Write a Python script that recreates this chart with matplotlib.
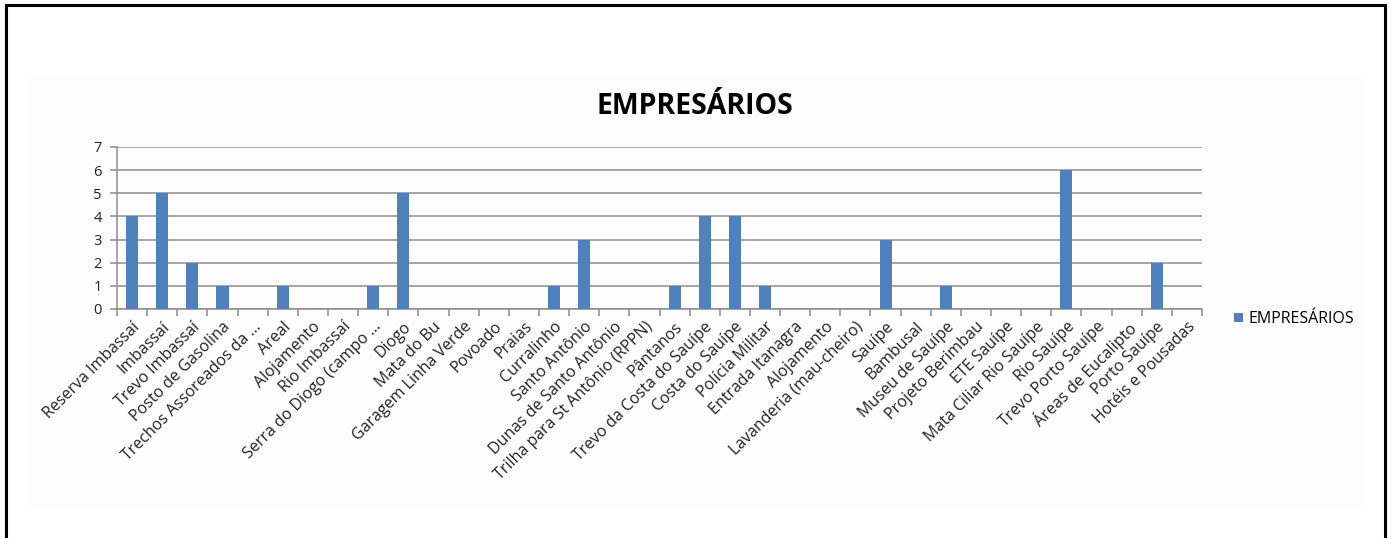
import matplotlib.pyplot as plt
from matplotlib.patches import Rectangle
from matplotlib.lines import Line2D
import numpy as np

plt.rcParams['font.family'] = ['Open Sans', 'DejaVu Sans']

categorias = [
    "Reserva Imbassaí", "Imbassaí", "Trevo Imbassaí", "Posto de Gasolina",
    "Trechos Assoreados da ...", "Areal", "Alojamento", "Rio Imbassaí",
    "Serra do Diogo (campo ...", "Diogo", "Mata do Bu", "Garagem Linha Verde",
    "Povoado", "Praias", "Curralinho", "Santo Antônio",
    "Dunas de Santo Antônio", "Trilha para St Antônio (RPPN)", "Pântanos",
    "Trevo da Costa do Sauípe", "Costa do Sauípe", "Polícia Militar",
    "Entrada Itanagra", "Alojamento", "Lavanderia (mau-cheiro)", "Sauípe",
    "Bambusal", "Museu de Sauípe", "Projeto Berimbau", "ETE Sauípe",
    "Mata Ciliar Rio Sauípe", "Rio Sauípe", "Trevo Porto Sauípe",
    "Áreas de Eucalipto", "Porto Sauípe", "Hotéis e Pousadas",
]
empresarios = [4, 5, 2, 1, 0, 1, 0, 0, 1, 5, 0, 0, 0, 0, 1, 3, 0, 0, 1, 4,
               4, 1, 0, 0, 0, 3, 0, 1, 0, 0, 0, 6, 0, 0, 2, 0]
serie = "EMPRESÁRIOS"
titulo = "EMPRESÁRIOS"

W, H = 1391, 538
fig = plt.figure(figsize=(W / 100, H / 100), dpi=100)
fig.patch.set_facecolor('white')

# fundo levemente acinzentado da área do gráfico
fig.add_artist(Rectangle((30 / W, 1 - 508 / H), (1364 - 30) / W, (508 - 77) / H,
                         transform=fig.transFigure, facecolor='#fdfdfd',
                         edgecolor='none', zorder=0))

# moldura preta (esquerda, topo, direita)
lw = 2.2
fig.add_artist(Line2D([6.5 / W, 6.5 / W], [0, 1 - 5 / H], color='black', lw=lw))
fig.add_artist(Line2D([6.5 / W, 1384.5 / W], [1 - 5 / H, 1 - 5 / H], color='black', lw=lw))
fig.add_artist(Line2D([1384.5 / W, 1384.5 / W], [0, 1 - 5 / H], color='black', lw=lw))

ax = fig.add_axes([117 / W, 1 - 309 / H, (1202 - 117) / W, (309 - 147) / H])
ax.set_facecolor('none')

x = np.arange(len(categorias))
ax.bar(x, empresarios, width=0.4, color='#4f81bd', label=serie, zorder=3)

ax.set_xlim(-0.5, len(categorias) - 0.5)
ax.set_ylim(0, 7)
ax.set_yticks(range(0, 8))
ax.yaxis.grid(True, color='#8c8c8c', linewidth=1.1, zorder=1)
ax.set_axisbelow(True)

for s in ['top', 'right']:
    ax.spines[s].set_visible(False)
for s in ['left', 'bottom']:
    ax.spines[s].set_color('#8c8c8c')
    ax.spines[s].set_linewidth(1.1)

ax.set_xticks(x)
ax.set_xticklabels(categorias, rotation=45, ha='right', rotation_mode='anchor',
                   fontsize=11.5, color='#222222')
ax.tick_params(axis='x', which='major', length=0, pad=7)
ax.set_xticks(np.arange(-0.5, len(categorias)), minor=True)
ax.tick_params(axis='x', which='minor', length=5, color='#8c8c8c', width=1.1)
ax.tick_params(axis='y', length=5, color='#8c8c8c', width=1.1, labelsize=10.5,
               labelcolor='#222222', pad=6)

fig.text(695 / W, 1 - 106 / H, titulo, ha='center', va='center',
         fontsize=20.5, fontweight='bold', color='black')

fig.legend(loc='center left', bbox_to_anchor=(1228 / W, 1 - 319 / H),
           frameon=False, fontsize=11.5, handlelength=0.55, handleheight=0.55,
           handletextpad=0.35, borderaxespad=0)

fig.savefig('out.png', dpi=100)
